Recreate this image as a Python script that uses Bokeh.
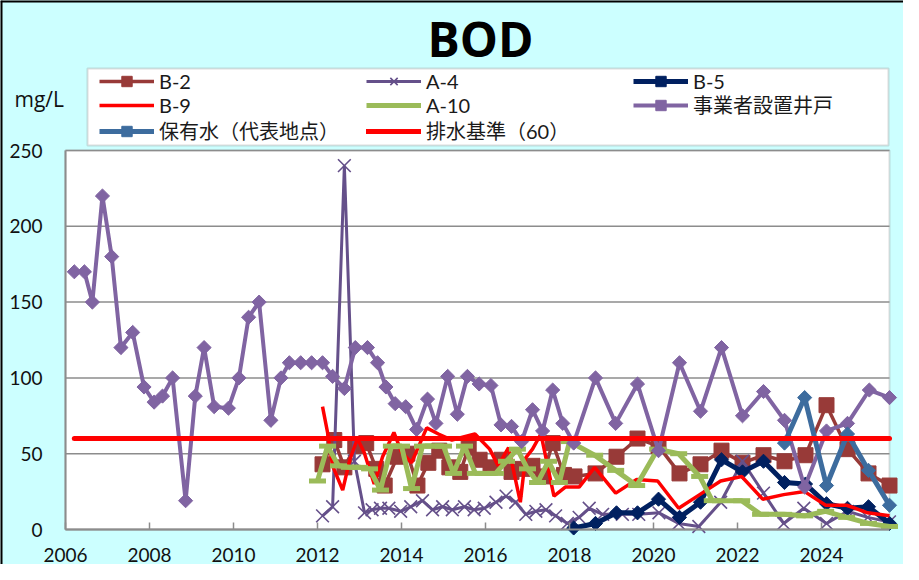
import numpy as np
from bokeh.plotting import figure
from bokeh.models import (Legend, LegendItem, Label, FixedTicker, Range1d,
                          BoxAnnotation, Span)
from bokeh.embed import file_html
from bokeh.resources import INLINE

# ---------------- data ----------------
WELL_X = [2006.21, 2006.45, 2006.64, 2006.88, 2007.10, 2007.32, 2007.60, 2007.87,
          2008.11, 2008.31, 2008.55, 2008.86, 2009.09, 2009.30, 2009.54, 2009.88,
          2010.13, 2010.36, 2010.61, 2010.89, 2011.13, 2011.33, 2011.60, 2011.86,
          2012.12, 2012.36, 2012.64, 2012.90, 2013.19, 2013.43, 2013.63, 2013.85,
          2014.10, 2014.36, 2014.62, 2014.82, 2015.10, 2015.33, 2015.57, 2015.85,
          2016.13, 2016.37, 2016.62, 2016.86, 2017.12, 2017.36, 2017.60, 2017.84,
          2018.10, 2018.62, 2019.10, 2019.62, 2020.12, 2020.62, 2021.12, 2021.62,
          2022.12, 2022.62, 2023.12, 2023.60, 2024.12, 2024.62, 2025.14, 2025.62]
WELL_Y = [170, 170, 150, 220, 180, 120, 130, 94, 84, 88, 100, 19, 88, 120, 81, 80,
          100, 140, 150, 72, 100, 110, 110, 110, 110, 101, 93, 120, 120, 110, 94, 83,
          81, 66, 86, 70, 101, 76, 101, 96, 95, 69, 68, 58, 79, 65, 92, 70,
          57, 100, 70, 96, 52, 110, 78, 120, 75, 91, 72, 28, 65, 70, 92, 87]

A4_X = [2012.12, 2012.36, 2012.64, 2012.88, 2013.12, 2013.30, 2013.50, 2013.70, 2013.98,
        2014.22, 2014.50, 2014.74, 2014.98, 2015.21, 2015.50, 2015.73, 2015.97,
        2016.25, 2016.49, 2016.72, 2016.96, 2017.20, 2017.44, 2017.67, 2017.95,
        2018.23, 2018.47, 2018.79, 2019.26, 2019.65, 2020.13, 2020.60, 2021.08, 2021.60,
        2022.12, 2022.62, 2023.10, 2023.58, 2024.12, 2024.62, 2025.10, 2025.62]
A4_Y = [9, 15, 240, 45, 11, 13, 14, 14, 12, 15, 19, 13, 15, 13, 15, 13, 14,
        18, 22, 18, 10, 12, 13, 9, 4, 8, 14, 10, 10, 10, 11, 4, 2, 18,
        45, 24, 4, 14, 4, 12, 8, 5]

B2_X = [2012.12, 2012.40, 2012.64, 2012.90, 2013.16, 2013.40, 2013.60, 2013.90,
        2014.14, 2014.38, 2014.64, 2014.90, 2015.14, 2015.40, 2015.60, 2015.86,
        2016.12, 2016.38, 2016.62, 2016.88, 2017.12, 2017.36, 2017.60, 2017.87,
        2018.12, 2018.62, 2019.12, 2019.62, 2020.12, 2020.62, 2021.12, 2021.62,
        2022.12, 2022.62, 2023.12, 2023.62, 2024.12, 2024.62, 2025.12, 2025.62]
B2_Y = [43, 59, 41, 55, 57, 40, 29, 48, 50, 29, 44, 52, 41, 38, 54, 46,
        41, 46, 38, 40, 42, 35, 57, 36, 35, 37, 48, 60, 55, 37, 43, 52,
        44, 49, 45, 49, 82, 53, 37, 29]

B9_X = [2012.12, 2012.24, 2012.36, 2012.60, 2012.76, 2012.95, 2013.11, 2013.35, 2013.55,
        2013.82, 2014.00, 2014.24, 2014.60, 2014.88, 2015.20, 2015.75, 2016.10, 2016.30,
        2016.55, 2016.83, 2016.95, 2017.12, 2017.32, 2017.63, 2017.90, 2018.23, 2018.60,
        2019.10, 2019.60, 2020.10, 2020.60, 2021.10, 2021.60, 2022.10, 2022.60, 2023.10,
        2023.60, 2024.10, 2024.60, 2025.10, 2025.62]
B9_Y = [81, 64, 42, 26, 45, 60, 51, 30, 48, 64, 51, 44, 67, 63, 59, 63, 53, 42,
        54, 18, 47, 53, 63, 22, 28, 28, 41, 24, 33, 32, 14, 23, 32, 35, 20, 23,
        25, 16, 16, 11, 9]

A10_X = [2012.00, 2012.24, 2012.50, 2012.76, 2013.00, 2013.24, 2013.50, 2013.76,
         2014.00, 2014.24, 2014.50, 2014.76, 2015.00, 2015.24, 2015.50, 2015.76,
         2016.00, 2016.24, 2016.50, 2016.76, 2017.00, 2017.24, 2017.50, 2017.76,
         2018.00, 2018.60, 2019.10, 2019.60, 2020.10, 2020.60, 2021.10, 2021.40,
         2022.10, 2022.55, 2023.10, 2023.60, 2024.10, 2024.60, 2025.12, 2025.62]
A10_Y = [32, 55, 42, 41, 41, 40, 26, 55, 55, 27, 55, 55, 55, 37, 55, 37,
         37, 37, 45, 53, 40, 31, 45, 31, 58, 49, 39, 29, 53, 50, 35, 19,
         19, 10, 10, 9, 12, 8, 4, 2]

B5_X = [2018.10, 2018.62, 2019.12, 2019.62, 2020.12, 2020.62, 2021.12, 2021.62,
        2022.12, 2022.62, 2023.12, 2023.62, 2024.12, 2024.62, 2025.12, 2025.62]
B5_Y = [1, 4, 11, 11, 20, 8, 18, 46, 38, 45, 31, 30, 17, 14, 15, 4]

HW_X = [2023.12, 2023.60, 2024.12, 2024.62, 2025.12, 2025.62]
HW_Y = [57, 87, 29, 63, 39, 16]

STD_X = [2006.21, 2025.62]
STD_Y = [60, 60]

X_TICKS = [2006, 2008, 2010, 2012, 2014, 2016, 2018, 2020, 2022, 2024]
Y_TICKS = [0, 50, 100, 150, 200, 250]
X_MIN, X_MAX = 2006, 2025.62
Y_MIN, Y_MAX = 0, 250

LABELS = ["B-2", "A-4", "B-5", "B-9", "A-10", "事業者設置井戸",
          "保有水（代表地点）", "排水基準（60）"]

# ---------------- layout (pixels inside the figure) ----------------
W, H = 903, 564
AREA_L, AREA_R = 65, 889        # plot-area left/right
AREA_T, AREA_B = 150, 529       # plot-area top/bottom
ppx = (AREA_R - AREA_L) / (X_MAX - X_MIN)
ppy = (AREA_B - AREA_T) / (Y_MAX - Y_MIN)
x_lo = X_MIN - AREA_L / ppx
x_hi = X_MAX + (W - AREA_R) / ppx
y_lo = Y_MIN - (H - AREA_B) / ppy
y_hi = Y_MAX + AREA_T / ppy


def px_to_x(px):
    return X_MIN + (px - AREA_L) / ppx


def px_to_y(py):
    return Y_MIN + (AREA_B - py) / ppy


p = figure(width=W, height=H, output_backend="svg", toolbar_location=None,
           x_range=Range1d(x_lo, x_hi), y_range=Range1d(y_lo, y_hi),
           min_border_left=0, min_border_right=0, min_border_top=0,
           min_border_bottom=0)
p.background_fill_color = "#CCFFFF"
p.border_fill_color = "#CCFFFF"
p.outline_line_color = None
p.xgrid.visible = False
p.ygrid.visible = False

# black chart border on the top and left edges
p.add_layout(Span(location=y_hi, dimension="width", line_color="black",
                  line_width=4, level="image"))
p.add_layout(Span(location=x_lo, dimension="height", line_color="black",
                  line_width=4, level="image"))

# plot area (white box with grey border)
area = BoxAnnotation(left=X_MIN, right=X_MAX, bottom=Y_MIN, top=Y_MAX,
                     fill_color="white", fill_alpha=1.0,
                     line_color="#8C8C8C", line_width=2, level="image")
p.add_layout(area)

# legend frame (white box with grey border)
leg_box = BoxAnnotation(left=px_to_x(87), right=px_to_x(888),
                        top=px_to_y(68), bottom=px_to_y(145),
                        fill_color="white", fill_alpha=1.0,
                        line_color="#8C8C8C", line_width=2, level="image")
p.add_layout(leg_box)

# horizontal grid lines
p.segment(x0=X_MIN, x1=X_MAX, y0=Y_TICKS, y1=Y_TICKS,
          line_color="#8C8C8C", line_width=1.5)

# axes (drawn at fixed positions inside the frame)
xa = p.xaxis[0]
xa.fixed_location = Y_MIN
xa.ticker = FixedTicker(ticks=X_TICKS)
xa.bounds = (X_MIN, X_MAX)
xa.axis_line_color = "#8C8C8C"
xa.axis_line_width = 2
xa.major_tick_line_color = "#8C8C8C"
xa.major_tick_line_width = 1.5
xa.major_tick_in = 7
xa.major_tick_out = 0
xa.minor_tick_line_color = None
xa.major_label_standoff = 18

ya = p.yaxis[0]
ya.fixed_location = X_MIN
ya.ticker = FixedTicker(ticks=Y_TICKS)
ya.bounds = (Y_MIN, Y_MAX)
ya.axis_line_color = "#8C8C8C"
ya.axis_line_width = 2
ya.major_tick_in = 0
ya.major_tick_out = 0
ya.minor_tick_line_color = None
ya.major_label_standoff = 23

for ax in (xa, ya):
    ax.major_label_text_font = "Lato"
    ax.major_label_text_font_size = "19px"
    ax.major_label_text_color = "#111111"

DIAMOND = np.pi / 4

# B-2
r_b2l = p.line(B2_X, B2_Y, line_color="#983A38", line_width=3.5)
r_b2m = p.scatter(B2_X, B2_Y, marker="square", size=15, fill_color="#983A38",
                  line_color="#983A38")
# A-4
r_a4l = p.line(A4_X, A4_Y, line_color="#65508A", line_width=3)
r_a4m = p.scatter(A4_X, A4_Y, marker="x", size=18, line_color="#65508A", line_width=1.6)
# B-5
r_b5l = p.line(B5_X, B5_Y, line_color="#002060", line_width=5)
r_b5m = p.scatter(B5_X, B5_Y, marker="square", angle=DIAMOND, size=10,
                  fill_color="#002060", line_color="#002060")
# B-9
r_b9 = p.line(B9_X, B9_Y, line_color="#FF0000", line_width=3.5)
# A-10
r_a10l = p.line(A10_X, A10_Y, line_color="#9BBB59", line_width=5)
r_a10m = p.scatter(A10_X, A10_Y, marker="dash", size=17, line_color="#9BBB59",
                   line_width=5)
# 事業者設置井戸
r_wl = p.line(WELL_X, WELL_Y, line_color="#8064A2", line_width=4)
r_wm = p.scatter(WELL_X, WELL_Y, marker="square", angle=DIAMOND, size=10,
                 fill_color="#8064A2", line_color="#8064A2")
# 保有水
r_hwl = p.line(HW_X, HW_Y, line_color="#3D6C9E", line_width=5)
r_hwm = p.scatter(HW_X, HW_Y, marker="square", angle=DIAMOND, size=10,
                  fill_color="#3D6C9E", line_color="#3D6C9E")
# 排水基準
r_std = p.line(STD_X, STD_Y, line_color="#FF0000", line_width=5, line_cap="round")

items = [
    LegendItem(label=LABELS[0], renderers=[r_b2l, r_b2m]),
    LegendItem(label=LABELS[1], renderers=[r_a4l, r_a4m]),
    LegendItem(label=LABELS[2], renderers=[r_b5l, r_b5m]),
    LegendItem(label=LABELS[3], renderers=[r_b9]),
    LegendItem(label=LABELS[4], renderers=[r_a10l]),
    LegendItem(label=LABELS[5], renderers=[r_wl, r_wm]),
    LegendItem(label=LABELS[6], renderers=[r_hwl, r_hwm]),
    LegendItem(label=LABELS[7], renderers=[r_std]),
]

# one borderless legend per row, inside the legend frame
ROWS = [[0, 1, 2], [3, 4, 5], [6, 7]]
ROW_CENTERS = [81, 106, 132]      # px from top of figure
ROW_H = 26
for row, cy in zip(ROWS, ROW_CENTERS):
    leg = Legend(items=[items[i] for i in row],
                 location=(99, H - (cy + ROW_H / 2)),
                 orientation="horizontal",
                 glyph_width=55, glyph_height=ROW_H, label_width=207,
                 label_height=ROW_H, label_standoff=5, spacing=0, padding=0,
                 margin=0, label_text_font="Lato, 'Noto Sans CJK JP'",
                 label_text_font_size="20px", label_text_color="#1A1A1A",
                 border_line_color=None, background_fill_alpha=0.0)
    p.add_layout(leg, "center")

title = Label(x=px_to_x(480), y=px_to_y(38), text="BOD",
              text_align="center", text_baseline="alphabetic",
              text_font="Open Sans", text_font_style="bold",
              text_font_size="48px", text_color="black")
p.add_layout(title)

unit = Label(x=px_to_x(14), y=px_to_y(98), text="mg/L",
             text_align="left", text_baseline="alphabetic",
             text_font="Open Sans", text_font_size="21px", text_color="#111111")
p.add_layout(unit)

open("out.html", "w").write(file_html(p, INLINE))
